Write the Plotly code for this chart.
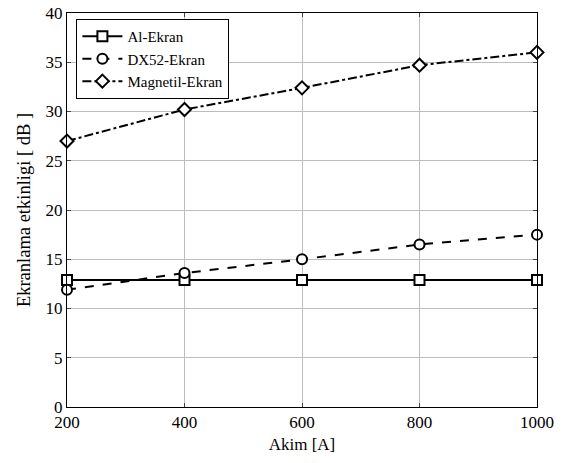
import plotly.graph_objects as go

akim = [200, 400, 600, 800, 1000]
al_ekran = [12.9, 12.9, 12.9, 12.9, 12.9]
dx52_ekran = [11.9, 13.6, 15.0, 16.5, 17.5]
magnetil_ekran = [27.0, 30.2, 32.4, 34.7, 36.0]

series = [
    ("Al-Ekran", al_ekran, "solid", "square"),
    ("DX52-Ekran", dx52_ekran, "dash", "circle"),
    ("Magnetil-Ekran", magnetil_ekran, "dashdot", "diamond"),
]

fig = go.Figure()
for name, vals, dash, sym in series:
    fig.add_trace(go.Scatter(
        x=akim, y=vals, name=name, mode="lines+markers",
        line=dict(color="black", width=2, dash=dash),
        marker=dict(symbol=sym, size=10, color="white", line=dict(width=2, color="black")),
        cliponaxis=False,
    ))

font = "Times New Roman, Liberation Serif, DejaVu Serif, serif"
fig.update_layout(
    width=585, height=463,
    margin=dict(l=67, r=48, t=13, b=56, autoexpand=False),
    paper_bgcolor="white", plot_bgcolor="white",
    font=dict(family=font, size=16, color="black"),
    showlegend=True,
    legend=dict(
        x=0.02, y=0.985, xanchor="left", yanchor="top",
        bgcolor="white", bordercolor="black", borderwidth=1,
        font=dict(family=font, size=15, color="black"),
        tracegroupgap=0, itemwidth=40,
    ),
    xaxis=dict(
        title=dict(text="Akim [A]", font=dict(family=font, size=17), standoff=6),
        range=[200, 1000], tickvals=akim, ticks="inside", ticklen=4,
        showline=True, linecolor="black", linewidth=1, mirror="ticks",
        showgrid=True, gridcolor="#bdbdbd", gridwidth=1, zeroline=False,
        tickfont=dict(family=font, size=17), automargin=False,
    ),
    yaxis=dict(
        title=dict(text="Ekranlama etkinligi [ dB ]", font=dict(family=font, size=18.5), standoff=10),
        range=[0, 40], dtick=5, ticks="inside", ticklen=4,
        showline=True, linecolor="black", linewidth=1, mirror="ticks",
        showgrid=True, gridcolor="#bdbdbd", gridwidth=1, zeroline=False,
        tickfont=dict(family=font, size=17), automargin=False,
    ),
)

fig.write_html(
    "out.html",
    config={"displayModeBar": False},
    post_script="document.body.style.margin='0';",
)
